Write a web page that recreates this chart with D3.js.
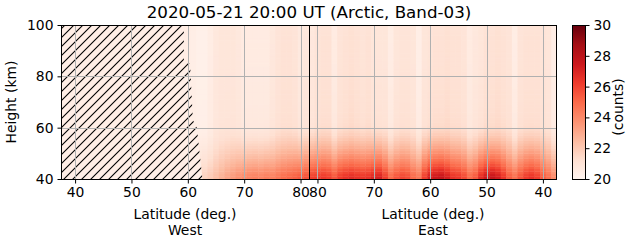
<!DOCTYPE html>
<html>
<head>
<meta charset="utf-8">
<script src="https://cdn.jsdelivr.net/npm/d3@7"></script>
<style>
  html, body { margin: 0; padding: 0; background: #fff; }
  svg text { font-family: "DejaVu Sans", sans-serif; fill: #000; }
</style>
</head>
<body>
<svg id="chart" width="631" height="243"></svg>
<script>
// == Daten ==
// West-Seite: Breitengrade der Spalten (Süd -> Nord, links -> Mitte)
const westLat = [59, 60, 61, 62, 63, 64, 65, 66, 67, 68, 69, 70, 71, 72, 73, 74, 75, 76, 77, 78, 79, 80, 81];
// Werte (counts) in der untersten Zeile (40 km)
const westBottom = [21.0, 21.1, 21.3, 21.5, 21.7, 22.0, 22.4, 22.8, 23.2, 23.5, 23.8, 24.0, 24.2, 24.3, 24.2, 24.4, 24.3, 24.6, 24.9, 25.1, 25.3, 25.5, 25.7];
// Hintergrundwerte oben (100 km)
const westTop = [20.5, 20.5, 20.4, 20.3, 20.3, 20.5, 20.8, 20.9, 20.9, 20.9, 20.8, 20.6, 20.6, 20.6, 20.6, 20.6, 20.8, 21.0, 21.1, 21.1, 21.0, 20.7, 20.8];

// Ost-Seite: Breitengrade der Spalten (Nord -> Süd, Mitte -> rechts)
const eastLat = [81, 80, 79, 78, 77, 76, 75, 74, 73, 72, 71, 70, 69, 68, 67, 66, 65, 64, 63, 62, 61, 60,
                 59, 58, 57, 56, 55, 54, 53, 52, 51, 50, 49, 48, 47, 46, 45, 44, 43, 42, 41, 40, 39, 38];
const eastBottom = [26.2, 26.3, 26.4, 26.2, 25.6, 26.3, 26.6, 26.8, 26.6, 26.5, 26.6, 27.0, 27.2, 26.2, 25.0, 25.6, 26.0, 25.8, 25.0, 24.6, 26.2, 27.3,
                    27.6, 27.8, 27.3, 26.6, 26.4, 25.9, 25.0, 25.5, 26.8, 27.5, 27.8, 27.4, 26.5, 25.4, 24.8, 25.6, 26.3, 26.6, 26.2, 25.4, 24.8, 24.0];
const eastTop = [20.8, 21.0, 21.1, 21.1, 20.6, 21.0, 21.1, 21.2, 21.1, 21.0, 21.1, 20.9, 20.9, 20.9, 20.5, 20.9, 21.0, 21.0, 20.9, 20.4, 20.9, 21.0,
                 21.1, 21.1, 21.2, 21.1, 21.1, 21.0, 20.6, 20.8, 20.9, 21.1, 21.1, 21.2, 21.1, 21.0, 20.5, 21.0, 21.1, 21.1, 21.1, 21.0, 20.9, 20.4];

// Höhenzeilen (Untergrenze in km) und relativer Anteil des Bodensignals je Zeile
const heights = [40, 41, 42, 43, 44, 45, 46, 47, 48, 49, 50, 51, 52, 53, 54, 55, 56, 57, 58, 59,
                 60, 61, 62, 63, 64, 65, 66, 67, 68, 69, 70, 71, 72, 73, 74, 75, 76, 77, 78, 79,
                 80, 81, 82, 83, 84, 85, 86, 87, 88, 89, 90, 91, 92, 93, 94, 95, 96, 97, 98, 99];
const profile = [1.00, 0.95, 0.89, 0.83, 0.76, 0.69, 0.63, 0.57, 0.51, 0.46,
                 0.41, 0.36, 0.31, 0.27, 0.23, 0.19, 0.15, 0.12, 0.09, 0.07,
                 0.055, 0.045, 0.04, 0.036, 0.033, 0.03, 0.028, 0.026, 0.024, 0.022,
                 0.02, 0.019, 0.018, 0.017, 0.016, 0.015, 0.014, 0.013, 0.012, 0.011,
                 0.01, 0.009, 0.008, 0.007, 0.006, 0.005, 0.004, 0.004, 0.003, 0.003,
                 0.002, 0.002, 0.002, 0.001, 0.001, 0.001, 0, 0, 0, 0];

// Rand des schraffierten Bereichs (keine Daten) auf der West-Seite
const hatchHeight = [100, 86, 85, 63, 60, 48, 40];
const hatchLat = [59.3, 59.3, 60.4, 60.9, 61.6, 62.2, 62.6];

const latTicks = [40, 50, 60, 70, 80];
const heightTicks = [40, 60, 80, 100];
const colorTicks = [20, 22, 24, 26, 28, 30];
const redsColors = ["#fff5f0", "#fee0d2", "#fcbba1", "#fc9272", "#fb6a4a", "#ef3b2c", "#cb181d", "#a50f15", "#67000d"];

const TITLE = "2020-05-21 20:00 UT (Arctic, Band-03)";

// == Layout ==
const plot = {left: 61, right: 557, top: 25, bottom: 179};
const mid = 309;
const cbar = {left: 572, right: 585};
// Schriftgrößen (10pt / 12pt bei 100 dpi)
const FS = 13.9;
const FS_TITLE = 16.7;

const svg = d3.select('#chart');

// Skalen
const xWest = d3.scaleLinear().domain([37.5, 81.5]).range([plot.left, mid]);
const xEast = d3.scaleLinear().domain([81.5, 37.5]).range([mid, plot.right]);
const y = d3.scaleLinear().domain([40, 100]).range([plot.bottom, plot.top]);
const color = d3.scaleLinear()
    .domain(redsColors.map((c, i) => 20 + i * 10 / (redsColors.length - 1)))
    .range(redsColors)
    .clamp(true);

// Zellen aus den Arrays bauen
function buildCells(lats, bottom, top, scale, side) {
    const cells = [];
    lats.forEach((lat, i) => {
        heights.forEach((h, j) => {
            cells.push({
                side: side,
                lat: lat,
                h: h,
                value: top[i] + (bottom[i] - top[i]) * profile[j],
                x0: Math.min(scale(lat - 0.5), scale(lat + 0.5)),
                x1: Math.max(scale(lat - 0.5), scale(lat + 0.5))
            });
        });
    });
    return cells;
}
const cells = buildCells(westLat, westBottom, westTop, xWest, 'W')
    .concat(buildCells(eastLat, eastBottom, eastTop, xEast, 'E'));

const defs = svg.append('defs');
defs.append('clipPath').attr('id', 'plotClip')
    .append('rect')
    .attr('x', plot.left).attr('y', plot.top)
    .attr('width', plot.right - plot.left).attr('height', plot.bottom - plot.top);

// Schraffur-Muster
const hatch = defs.append('pattern')
    .attr('id', 'hatch')
    .attr('patternUnits', 'userSpaceOnUse')
    .attr('width', 9).attr('height', 9);
hatch.append('path')
    .attr('d', 'M0,9 L9,0 M-2,2 L2,-2 M7,11 L11,7')
    .attr('stroke', '#000')
    .attr('stroke-width', 1.1);

const gPlot = svg.append('g').attr('clip-path', 'url(#plotClip)');

// Hintergrund
gPlot.append('rect')
    .attr('x', plot.left).attr('y', plot.top)
    .attr('width', plot.right - plot.left).attr('height', plot.bottom - plot.top)
    .attr('fill', color(20.4));

gPlot.selectAll('rect.cell')
    .data(cells)
    .enter()
    .append('rect')
    .attr('class', 'cell')
    .attr('x', d => d.x0)
    .attr('y', d => y(d.h + 1))
    .attr('width', d => d.x1 - d.x0 + 0.4)
    .attr('height', d => y(d.h) - y(d.h + 1) + 0.4)
    .attr('fill', d => color(d.value));

// Schraffierter Bereich
const hatchPoints = [[37.5, 100]]
    .concat(hatchHeight.map((h, i) => [hatchLat[i], h]))
    .concat([[37.5, 40]]);
const hatchPath = d3.line().x(d => xWest(d[0])).y(d => y(d[1]))(hatchPoints) + 'Z';
gPlot.append('path').attr('d', hatchPath).attr('fill', color(20.4));
gPlot.append('path').attr('d', hatchPath).attr('fill', 'url(#hatch)');

// Gitter
const grid = gPlot.append('g')
    .attr('stroke', '#b0b0b0')
    .attr('stroke-width', 1);
latTicks.forEach(t => {
    [xWest(t), xEast(t)].forEach(xp => {
        grid.append('line')
            .attr('x1', Math.round(xp) + 0.5).attr('x2', Math.round(xp) + 0.5)
            .attr('y1', plot.top).attr('y2', plot.bottom);
    });
});
heightTicks.forEach(t => {
    grid.append('line')
        .attr('x1', plot.left).attr('x2', plot.right)
        .attr('y1', Math.round(y(t)) + 0.5).attr('y2', Math.round(y(t)) + 0.5);
});

// Trennlinie West/Ost
svg.append('line')
    .attr('x1', mid + 0.5).attr('x2', mid + 0.5)
    .attr('y1', plot.top).attr('y2', plot.bottom)
    .attr('stroke', '#000').attr('stroke-width', 1);

// Rahmen
svg.append('rect')
    .attr('x', plot.left + 0.5).attr('y', plot.top + 0.5)
    .attr('width', plot.right - plot.left - 1).attr('height', plot.bottom - plot.top)
    .attr('fill', 'none').attr('stroke', '#000').attr('stroke-width', 1);

// Achsen
function styleAxis(g) {
    g.select('.domain').remove();
    g.selectAll('.tick line').attr('stroke', '#000');
    g.selectAll('.tick text')
        .style('font-family', '"DejaVu Sans", sans-serif')
        .style('font-size', FS + 'px')
        .attr('fill', '#000');
}
svg.append('g')
    .attr('transform', `translate(0,${plot.bottom + 0.5})`)
    .call(d3.axisBottom(xWest).tickValues(latTicks).tickSize(4).tickPadding(4).tickFormat(d3.format('d')))
    .call(styleAxis);
svg.append('g')
    .attr('transform', `translate(0,${plot.bottom + 0.5})`)
    .call(d3.axisBottom(xEast).tickValues(latTicks).tickSize(4).tickPadding(4).tickFormat(d3.format('d')))
    .call(styleAxis);
svg.append('g')
    .attr('transform', `translate(${plot.left + 0.5},0)`)
    .call(d3.axisLeft(y).tickValues(heightTicks).tickSize(4).tickPadding(4).tickFormat(d3.format('d')))
    .call(styleAxis);

// Beschriftungen
svg.append('text')
    .attr('x', (plot.left + plot.right) / 2).attr('y', 18)
    .attr('text-anchor', 'middle')
    .style('font-size', FS_TITLE + 'px')
    .text(TITLE);

[['Latitude (deg.)', 'West', (plot.left + mid) / 2], ['Latitude (deg.)', 'East', (mid + plot.right) / 2]]
    .forEach(([l1, l2, cx]) => {
        svg.append('text').attr('x', cx).attr('y', 218.5)
            .attr('text-anchor', 'middle').style('font-size', FS + 'px').text(l1);
        svg.append('text').attr('x', cx).attr('y', 235)
            .attr('text-anchor', 'middle').style('font-size', FS + 'px').text(l2);
    });

svg.append('text')
    .attr('transform', `translate(16,${(plot.top + plot.bottom) / 2}) rotate(-90)`)
    .attr('text-anchor', 'middle')
    .style('font-size', FS + 'px')
    .text('Height (km)');

// == Farbskala ==
const grad = defs.append('linearGradient')
    .attr('id', 'cbarGrad')
    .attr('x1', 0).attr('y1', 1).attr('x2', 0).attr('y2', 0);
redsColors.forEach((c, i) => {
    grad.append('stop')
        .attr('offset', i / (redsColors.length - 1))
        .attr('stop-color', c);
});
const yC = d3.scaleLinear().domain([20, 30]).range([plot.bottom, plot.top]);
svg.append('rect')
    .attr('x', cbar.left + 0.5).attr('y', plot.top + 0.5)
    .attr('width', cbar.right - cbar.left).attr('height', plot.bottom - plot.top)
    .attr('fill', 'url(#cbarGrad)')
    .attr('stroke', '#000').attr('stroke-width', 1);
svg.append('g')
    .attr('transform', `translate(${cbar.right + 0.5},0)`)
    .call(d3.axisRight(yC).tickValues(colorTicks).tickSize(4).tickPadding(4).tickFormat(d3.format('d')))
    .call(styleAxis);
svg.append('text')
    .attr('transform', `translate(623,107) rotate(-90)`)
    .attr('text-anchor', 'middle')
    .style('font-size', FS + 'px')
    .text('(counts)');
</script>
</body>
</html>
